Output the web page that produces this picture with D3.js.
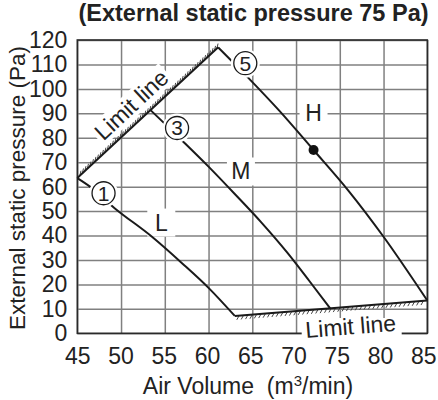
<!DOCTYPE html>
<html>
<head>
<meta charset="utf-8">
<script src="https://cdn.jsdelivr.net/npm/d3@7/dist/d3.min.js"></script>
<style>
  html, body { margin: 0; padding: 0; background: #fff; }
  svg { display: block; }
  text { font-family: "Liberation Sans", Arial, Helvetica, sans-serif; fill: #222; }
</style>
</head>
<body>
<svg id="chart" width="438" height="400"></svg>
<script>
// Axis ticks
const xTicks = [45, 50, 55, 60, 65, 70, 75, 80, 85];
const yTicks = [0, 10, 20, 30, 40, 50, 60, 70, 80, 90, 100, 110, 120];

// Fan curves: air volume (m3/min) vs external static pressure (Pa)
const curveL = [[45, 63.5], [46.45, 60], [49.3, 51.1], [53.5, 39.6], [57, 28.6], [60, 18.6], [63.0, 7.1]];
const curveM = [[53.4, 91.2], [57, 78.8], [60, 68.2], [63, 57], [66, 45.5], [69, 33], [71.5, 21.5], [73.9, 10.2]];
const curveH = [[61.1, 117], [64.6, 104.3], [68, 91.4], [72, 75], [76, 58.3], [80, 39.5], [85, 13.4]];

// Operating limits
const limitUpper = [[45, 63.5], [61.1, 117]];
const limitLower = [[63.0, 7.1], [85, 13.4]];

// Rated point on the H curve
const ratedPoint = [72.0, 75];

// Tap numbers and fan-speed letters
const tapLabels = [{ text: "1", v: 48.0, p: 57.3 }, { text: "3", v: 56.4, p: 84 }, { text: "5", v: 64.2, p: 110.5 }];
const speedLabels = [{ text: "H", v: 72.0, p: 90 }, { text: "M", v: 63.7, p: 66.2 }, { text: "L", v: 54.6, p: 45.3 }];

const svg = d3.select("#chart");
const margin = { left: 77.3, top: 40, right: 10.7, bottom: 66.7 };
const W = 438 - margin.left - margin.right;
const H = 400 - margin.top - margin.bottom;

const x = d3.scaleLinear().domain([45, 85]).range([0, W]);
const y = d3.scaleLinear().domain([0, 120]).range([H, 0]);

const g = svg.append("g").attr("transform", `translate(${margin.left},${margin.top})`);

// Title
svg.append("text")
  .attr("x", 253.5).attr("y", 21)
  .attr("text-anchor", "middle")
  .style("font-size", "23.5px").style("font-weight", "bold")
  .text("(External static pressure 75 Pa)");

// Grid via axes
const gx = g.append("g").attr("transform", `translate(0,${H})`)
  .call(d3.axisBottom(x).tickValues(xTicks).tickSize(-H).tickPadding(14).tickFormat(d3.format("d")));
const gy = g.append("g")
  .call(d3.axisLeft(y).tickValues(yTicks).tickSize(-W).tickPadding(10).tickFormat(d3.format("d")));
[gx, gy].forEach(a => {
  a.select(".domain").remove();
  a.selectAll(".tick line").attr("stroke", "#808080").attr("stroke-width", 1.5);
  a.selectAll(".tick text").style("font-size", "23px").attr("fill", "#222")
    .style("font-family", "'Liberation Sans', Arial, sans-serif");
});
// keep the right-most labels inside the frame
gx.selectAll(".tick text").attr("dx", d => -(d - 45) / 40 * 4);

// Plot frame
g.append("rect").attr("x", 0).attr("y", 0).attr("width", W).attr("height", H)
  .attr("fill", "none").attr("stroke", "#2a2a2a").attr("stroke-width", 1.6);

// Axis titles
svg.append("text")
  .attr("x", 248).attr("y", 394)
  .attr("text-anchor", "middle").style("font-size", "23px")
  .html('Air Volume&#160;&#160;(m<tspan baseline-shift="super" font-size="15px">3</tspan>/min)');
svg.append("text")
  .attr("transform", "translate(25,188) rotate(-90)")
  .attr("text-anchor", "middle").style("font-size", "22.5px")
  .text("External static pressure (Pa)");

const px = d => [x(d[0]), y(d[1])];

// White boxes behind speed letters
speedLabels.forEach(s => {
  g.append("rect").attr("x", x(s.v) - 14).attr("y", y(s.p) - 14)
    .attr("width", 28).attr("height", 28).attr("fill", "#fff");
});

// Upper limit label (along the line)
const uA = px(limitUpper[0]), uB = px(limitUpper[1]);
const uAng = Math.atan2(uB[1] - uA[1], uB[0] - uA[0]) * 180 / Math.PI;
const uV = 52.5;
const uP = limitUpper[0][1] + (uV - limitUpper[0][0]) * (limitUpper[1][1] - limitUpper[0][1]) / (limitUpper[1][0] - limitUpper[0][0]);
const uLab = g.append("g").attr("transform", `translate(${x(uV)},${y(uP)}) rotate(${uAng})`);
uLab.append("rect").attr("x", -48).attr("y", -29).attr("width", 96).attr("height", 24).attr("fill", "#fff");

// Lower limit label box
const lA = px(limitLower[0]), lB = px(limitLower[1]);
const lAng = Math.atan2(lB[1] - lA[1], lB[0] - lA[0]) * 180 / Math.PI;
g.append("rect").attr("x", 224.4).attr("y", 278).attr("width", 100).attr("height", 27).attr("fill", "#fff");

// Limit lines with hatching
function hatch(points, spacing, dx, dy) {
  const p = points.map(px);
  const len = Math.hypot(p[1][0] - p[0][0], p[1][1] - p[0][1]);
  const n = Math.floor(len / spacing);
  const marks = [];
  for (let i = 1; i <= n; i++) {
    const t = i * spacing / len;
    marks.push([p[0][0] + t * (p[1][0] - p[0][0]), p[0][1] + t * (p[1][1] - p[0][1])]);
  }
  g.append("g").selectAll("line").data(marks).join("line")
    .attr("x1", d => d[0]).attr("y1", d => d[1])
    .attr("x2", d => d[0] + dx).attr("y2", d => d[1] + dy)
    .attr("stroke", "#444").attr("stroke-width", 1);
}
hatch(limitUpper, 3.4, 1.2, -5);
hatch(limitLower, 4.4, -2.4, 4.2);

const straight = d3.line().x(d => x(d[0])).y(d => y(d[1]));
const smooth = d3.line().x(d => x(d[0])).y(d => y(d[1])).curve(d3.curveMonotoneX);

[limitUpper, limitLower].forEach(l => {
  g.append("path").attr("d", straight(l)).attr("fill", "none")
    .attr("stroke", "#1a1a1a").attr("stroke-width", 2);
});
[curveL, curveM, curveH].forEach(c => {
  g.append("path").attr("d", smooth(c)).attr("fill", "none")
    .attr("stroke", "#1a1a1a").attr("stroke-width", 2);
});

// Rated point
g.append("circle").attr("cx", x(ratedPoint[0])).attr("cy", y(ratedPoint[1]))
  .attr("r", 5).attr("fill", "#111");

// Tap number markers
tapLabels.forEach(t => {
  const cx = x(t.v), cy = y(t.p);
  g.append("circle").attr("cx", cx).attr("cy", cy).attr("r", 14.5).attr("fill", "#fff");
  g.append("circle").attr("cx", cx).attr("cy", cy).attr("r", 11.5)
    .attr("fill", "#fff").attr("stroke", "#1a1a1a").attr("stroke-width", 1.3);
  g.append("text").attr("x", cx).attr("y", cy + 7.5)
    .attr("text-anchor", "middle").style("font-size", "21px").text(t.text);
});

// Speed letters
speedLabels.forEach(s => {
  g.append("text").attr("x", x(s.v)).attr("y", y(s.p) + 8)
    .attr("text-anchor", "middle").style("font-size", "23px").text(s.text);
});

// Limit line texts
uLab.append("text").attr("x", 0).attr("y", -9)
  .attr("text-anchor", "middle").style("font-size", "23px").text("Limit line");
g.append("text")
  .attr("transform", `translate(274,${H + 1}) rotate(${lAng})`)
  .attr("text-anchor", "middle").style("font-size", "23px").text("Limit line");
</script>
</body>
</html>
